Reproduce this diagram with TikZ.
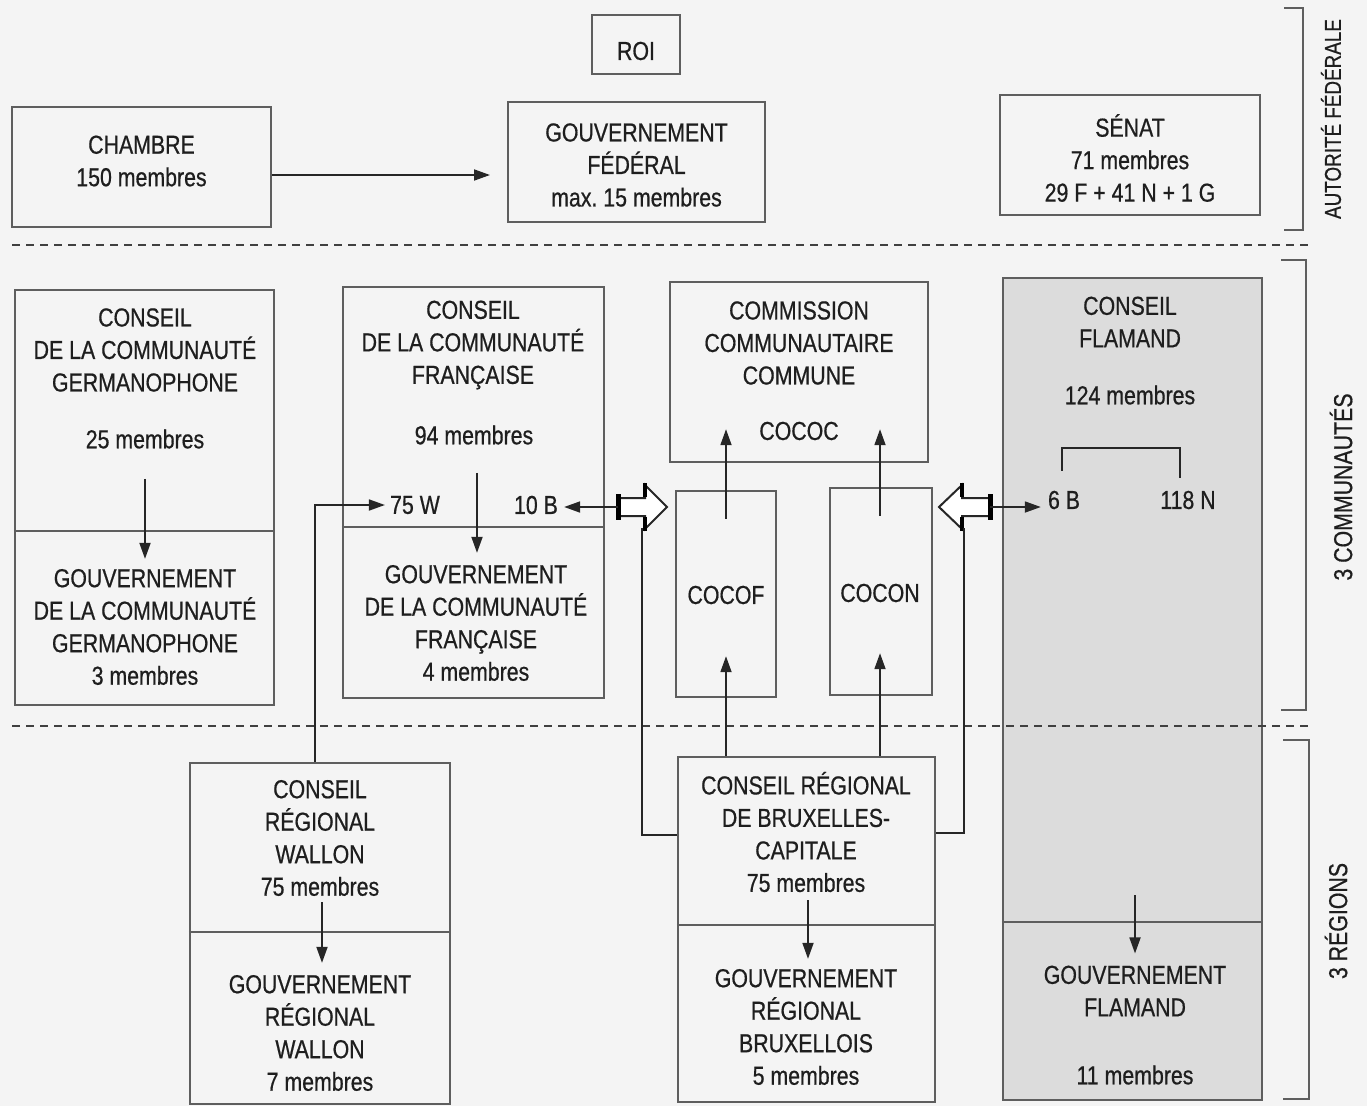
\documentclass[tikz,border=0pt]{standalone}
\usepackage{fontspec}
\setmainfont{Liberation Sans}[FakeStretch=0.82,FakeBold=0.6]
\usetikzlibrary{arrows.meta}
\definecolor{bg}{HTML}{F4F4F4}
\definecolor{ln}{HTML}{5E5E5E}
\definecolor{tx}{HTML}{1E1E1E}
\definecolor{flamfill}{HTML}{DCDCDC}
\begin{document}
\begin{tikzpicture}[x=1pt,y=-1pt,
  box/.style={draw=ln,line width=2.4pt,rectangle,inner sep=0pt},
  lbl/.style={text=tx,inner sep=0pt,align=center,font=\fontsize{26}{32.5}\selectfont},
  side/.style={text=tx,inner sep=0pt,rotate=90,font=\fontsize{26}{28}\selectfont},
  conn/.style={draw=black!85,line width=1.8pt},
  arr/.style={conn,-{Triangle[length=16pt,width=11pt]}},
  dashline/.style={draw=black!75,line width=2.4pt,dash pattern=on 8pt off 6pt},
  brk/.style={draw=ln,line width=2pt},
  hollow/.style={draw=black!85,line width=2pt,fill=white,line join=miter},
  divider/.style={draw=ln,line width=2.4pt}]
\useasboundingbox (0,0) rectangle (1367,1106);
\fill[bg] (0,0) rectangle (1367,1106);

% ---------- boxes ----------
\node[box,minimum width=88pt,minimum height=59pt] (roi) at (636,44.5) {};
\node[box,minimum width=259pt,minimum height=120pt] (chambre) at (141.5,167) {};
\node[box,minimum width=257pt,minimum height=120pt] (gouvfed) at (636.5,162) {};
\node[box,minimum width=260pt,minimum height=120pt] (senat) at (1130,155) {};
\node[box,minimum width=259pt,minimum height=415pt] (germ) at (144.5,497.5) {};
\node[box,minimum width=261pt,minimum height=411pt] (fr) at (473.5,492.5) {};
\node[box,minimum width=258pt,minimum height=180pt] (cococ) at (799,372) {};
\node[box,minimum width=100pt,minimum height=206pt] (cocof) at (726,594) {};
\node[box,minimum width=102pt,minimum height=207pt] (cocon) at (881,591.5) {};
\node[box,fill=flamfill,minimum width=259pt,minimum height=822pt] (flam) at (1132.5,689) {};
\node[box,minimum width=260pt,minimum height=341pt] (wallon) at (320,933.5) {};
\node[box,minimum width=257pt,minimum height=345pt] (crb) at (806.5,929.5) {};

% dividers
\draw[divider] (germ.west |- 0,531) -- (germ.east |- 0,531);
\draw[divider] (fr.west |- 0,527) -- (fr.east |- 0,527);
\draw[divider] (flam.west |- 0,922) -- (flam.east |- 0,922);
\draw[divider] (wallon.west |- 0,932) -- (wallon.east |- 0,932);
\draw[divider] (crb.west |- 0,925) -- (crb.east |- 0,925);

% ---------- texts ----------
\node[lbl] (troi) at (636,51) {ROI};
\node[lbl] (tchambre) at (141.5,161) {CHAMBRE\\150 membres};
\node[lbl] (tgouvfed) at (636.5,165) {GOUVERNEMENT\\FÉDÉRAL\\max.\ 15 membres};
\node[lbl] (tsenat) at (1130,158) {SÉNAT\\71 membres\\29 F + 41 N + 1 G};

\node[lbl] (tgermC) at (145,350) {CONSEIL\\DE LA COMMUNAUTÉ\\GERMANOPHONE};
\node[lbl] (tgermN) at (145,439) {25 membres};
\node[lbl] (tgermG) at (145,627) {GOUVERNEMENT\\DE LA COMMUNAUTÉ\\GERMANOPHONE\\3 membres};

\node[lbl] (tfrC) at (473,345) {CONSEIL\\DE LA COMMUNAUTÉ\\FRANÇAISE};
\node[lbl] (tfrN) at (474,435) {94 membres};
\node[lbl] (t75W) at (415,505) {75 W};
\node[lbl] (t10B) at (536,505) {10 B};
\node[lbl] (tfrG) at (476,623) {GOUVERNEMENT\\DE LA COMMUNAUTÉ\\FRANÇAISE\\4 membres};

\node[lbl] (tcococ) at (799,343) {COMMISSION\\COMMUNAUTAIRE\\COMMUNE};
\node[lbl] (tcococA) at (799,431) {COCOC};
\node[lbl] (tcocof) at (726,595) {COCOF};
\node[lbl] (tcocon) at (880,593) {COCON};

\node[lbl] (tflamC) at (1130,322) {CONSEIL\\FLAMAND};
\node[lbl] (tflamN) at (1130,395) {124 membres};
\node[lbl] (t6B) at (1064,500) {6 B};
\node[lbl] (t118N) at (1188,500) {118 N};
\node[lbl] (tflamG) at (1135,991) {GOUVERNEMENT\\FLAMAND};
\node[lbl] (tflamM) at (1135,1075) {11 membres};

\node[lbl] (twalC) at (320,838) {CONSEIL\\RÉGIONAL\\WALLON\\75 membres};
\node[lbl] (twalG) at (320,1033) {GOUVERNEMENT\\RÉGIONAL\\WALLON\\7 membres};

\node[lbl] (tcrbC) at (806,832) {CONSEIL RÉGIONAL\\DE BRUXELLES-\\CAPITALE\\75 membres};
\node[lbl] (tcrbG) at (806,1027) {GOUVERNEMENT\\RÉGIONAL\\BRUXELLOIS\\5 membres};

\node[side,font=\fontsize{23}{26}\selectfont] (lfed) at (1331,119) {AUTORITÉ FÉDÉRALE};
\node[side] (lcom) at (1341,487) {3 COMMUNAUTÉS};
\node[side] (lreg) at (1336,921) {3 RÉGIONS};

% ---------- separators and brackets ----------
\draw[dashline] (12,245) -- (1308,245);
\draw[dashline] (12,726) -- (1308,726);
\draw[brk] (1284,8) -- (1303,8) -- (1303,230) -- (1284,230);
\draw[brk] (1281,260) -- (1306,260) -- (1306,710) -- (1281,710);
\draw[brk] (1283,740) -- (1309,740) -- (1309,1099) -- (1283,1099);

% ---------- hollow arrows ----------
\coordinate (hLtail) at (618,507);
\coordinate (hLfoot) at (642,528);
\coordinate (hRtail) at (990,507);
\coordinate (hRfoot) at (964,528);
\draw[hollow] (618,498) -- (645,498) -- (645,485) -- (667,507) -- (645,529) -- (645,516) -- (618,516) -- cycle;
\draw[black,line width=5pt] (618,494) -- (618,520);
\draw[black,line width=4pt] (645,483) -- (645,497) (645,517) -- (645,531);
\draw[hollow] (990,498) -- (962,498) -- (962,485) -- (939,507) -- (962,529) -- (962,516) -- (990,516) -- cycle;
\draw[black,line width=5pt] (990,494) -- (990,520);
\draw[black,line width=4pt] (962,483) -- (962,497) (962,517) -- (962,531);

% ---------- connectors ----------
\coordinate (chambreArr) at (490,175);
\draw[arr] (chambre.east |- chambreArr) -- (chambreArr);

\draw[arr,shorten <=30pt,shorten >=10pt] (tgermN.south) -- (tgermN.south |- tgermG.north);
\draw[arr,shorten <=28pt,shorten >=12pt] (tfrN.south -| 477,0) -- (tfrG.north -| 477,0);
\draw[arr,shorten >=5pt] ([xshift=126pt]wallon.north west) |- (t75W.west);
\draw[arr,shorten >=6pt] (hLtail) -- (t10B.east |- hLtail);
\draw[conn] (hLfoot) |- ([yshift=94.5pt]crb.west);
\draw[conn] (hRfoot) |- ([yshift=96.5pt]crb.east);
\draw[arr,shorten >=7pt] (hRtail) -- (t6B.west |- hRtail);

\draw[arr] ([yshift=-29pt]cocof.north) -- ([yshift=34pt]cococ.south -| cocof.north);
\draw[arr] ([yshift=-29pt]cocon.north -| 880,0) -- ([yshift=34pt]cococ.south -| 880,0);
\draw[arr] (crb.north -| cocof.south) -- ([yshift=42pt]cocof.south);
\draw[arr] (crb.north -| 880,0) -- ([yshift=43pt]cocon.south -| 880,0);

\draw[arr,shorten <=6pt,shorten >=12pt] (twalC.south -| 322,0) -- (twalG.north -| 322,0);
\draw[arr,shorten <=8pt,shorten >=10pt] (tcrbC.south -| 808,0) -- (tcrbG.north -| 808,0);
\coordinate (flamArrTop) at (1135,895);
\draw[arr,shorten >=12pt] (flamArrTop) -- (tflamG.north);
\draw[conn] (t6B.north) ++(-2,-20) |- (1180,448) -- (1180,478);
\end{tikzpicture}
\end{document}
